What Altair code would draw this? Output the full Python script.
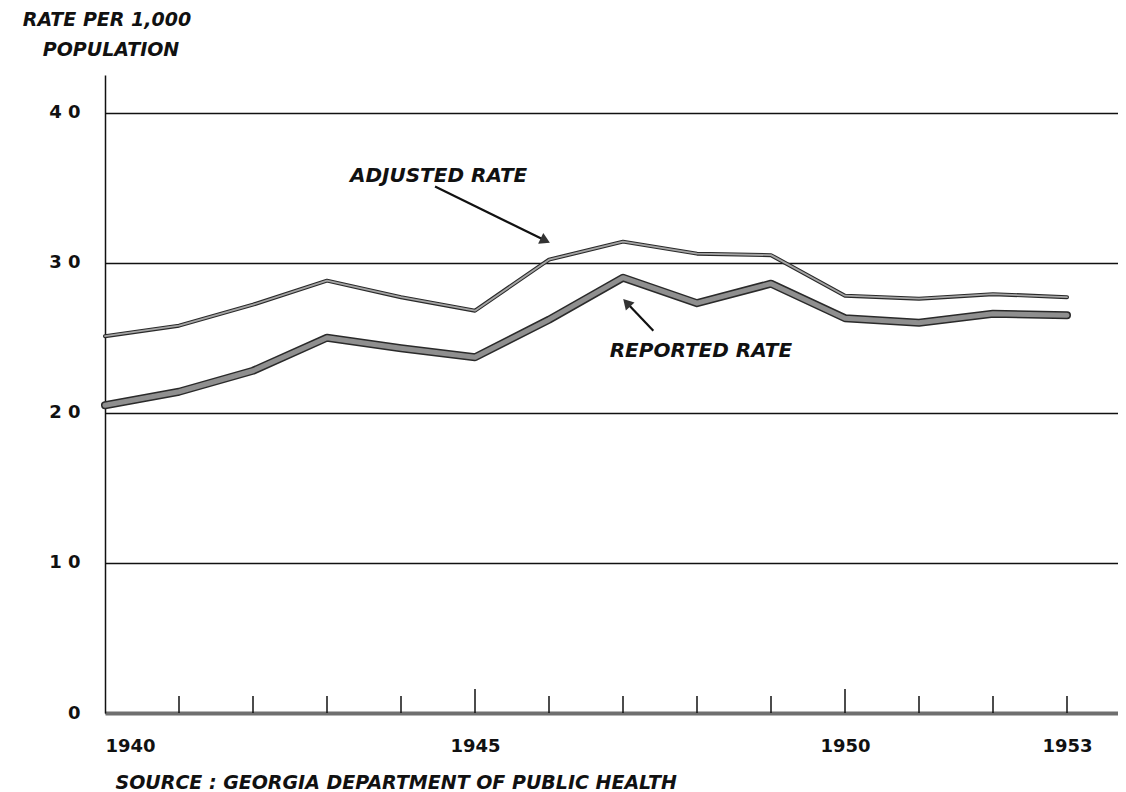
import altair as alt
import pandas as pd

# ---- data ----
years = [1940, 1941, 1942, 1943, 1944, 1945, 1946, 1947, 1948, 1949, 1950, 1951, 1952, 1953]
adjusted = [25.1, 25.8, 27.2, 28.8, 27.7, 26.8, 30.2, 31.4, 30.6, 30.5, 27.8, 27.6, 27.9, 27.7]
reported = [20.5, 21.4, 22.8, 25.0, 24.3, 23.7, 26.2, 29.0, 27.3, 28.6, 26.3, 26.0, 26.6, 26.5]

minor_ticks = [1941, 1942, 1943, 1944, 1946, 1947, 1948, 1949, 1951, 1952, 1953]
major_ticks = [1945, 1950]
x_label_values = [1940, 1945, 1950, 1953]
y_values = [0, 10, 20, 30, 40]

ann_text = ["ADJUSTED RATE", "REPORTED RATE"]
ann_text_x = [1943.31, 1946.82]
ann_text_y = [35.8, 24.1]
arrow_x0 = [1944.46, 1947.41]
arrow_y0 = [35.07, 25.47]
arrow_x1 = [1945.95, 1947.05]
arrow_y1 = [31.47, 27.33]
arrow_angle = [116, 317]

source_text = "SOURCE : GEORGIA DEPARTMENT OF PUBLIC HEALTH"
ytitle_line1 = "RATE PER 1,000"
ytitle_line2 = "POPULATION"

# ---- layout ----
W, H = 1013, 638
FONT = "DejaVu Sans"

df = pd.DataFrame({"year": years, "adjusted": adjusted, "reported": reported})
xs = alt.Scale(domain=[1940, 1940 + W / 74], nice=False, zero=False)
ys = alt.Scale(domain=[0, 42.5], nice=False)

xaxis = alt.Axis(values=x_label_values, format="d", ticks=False, grid=False,
                 labelFont=FONT, labelFontSize=18, labelFontWeight="bold",
                 labelColor="#111", labelPadding=24, labelFlush=True,
                 domainColor="#6f6f6f", domainWidth=4,
                 title=source_text, titleFont=FONT, titleFontSize=19,
                 titleFontStyle="italic", titleFontWeight="bold",
                 titleColor="#111", titleAnchor="start", titleAlign="left",
                 titleX=10, titleY=69, titleBaseline="middle")
yaxis = alt.Axis(values=y_values, ticks=False, grid=True, gridColor="#111",
                 gridWidth=1.5, gridOpacity=1,
                 labelExpr="datum.value == 0 ? '0' : (datum.value / 10) + ' 0'",
                 labelFont=FONT, labelFontSize=18, labelFontWeight="bold",
                 labelColor="#111", labelPadding=25,
                 domainColor="#111", domainWidth=1.5, title=None)

base = alt.Chart(df)

adj_outer = base.mark_line(color="#2a2a2a", strokeWidth=4, strokeJoin="round", strokeCap="round").encode(
    x=alt.X("year:Q", scale=xs, axis=xaxis), y=alt.Y("adjusted:Q", scale=ys, axis=yaxis))
adj_inner = base.mark_line(color="#a5a5a5", strokeWidth=1.8, strokeJoin="round", strokeCap="round").encode(
    x=alt.X("year:Q", scale=xs), y=alt.Y("adjusted:Q", scale=ys))
rep_outer = base.mark_line(color="#2a2a2a", strokeWidth=8, strokeJoin="round", strokeCap="round").encode(
    x=alt.X("year:Q", scale=xs), y=alt.Y("reported:Q", scale=ys))
rep_inner = base.mark_line(color="#8f8f8f", strokeWidth=5, strokeJoin="round", strokeCap="round").encode(
    x=alt.X("year:Q", scale=xs), y=alt.Y("reported:Q", scale=ys))

minor = alt.Chart(pd.DataFrame({"year": minor_ticks})).mark_rule(color="#111", strokeWidth=1.5).encode(
    x=alt.X("year:Q", scale=xs), y=alt.value(H), y2=alt.value(H - 17))
major = alt.Chart(pd.DataFrame({"year": major_ticks})).mark_rule(color="#111", strokeWidth=1.5).encode(
    x=alt.X("year:Q", scale=xs), y=alt.value(H), y2=alt.value(H - 24))

ann = pd.DataFrame({"text": ann_text, "tx": ann_text_x, "ty": ann_text_y,
                    "x0": arrow_x0, "y0": arrow_y0, "x1": arrow_x1, "y1": arrow_y1,
                    "ang": arrow_angle})
ann_labels = alt.Chart(ann).mark_text(align="left", baseline="middle", font=FONT, fontSize=20,
                                      fontStyle="italic", fontWeight="bold", color="#111").encode(
    x=alt.X("tx:Q", scale=xs), y=alt.Y("ty:Q", scale=ys), text="text:N")
arrows = alt.Chart(ann).mark_rule(color="#111", strokeWidth=2.2).encode(
    x=alt.X("x0:Q", scale=xs), y=alt.Y("y0:Q", scale=ys), x2="x1:Q", y2="y1:Q")
heads = alt.Chart(ann).mark_point(shape="triangle-up", filled=True, color="#333", size=140, opacity=1).encode(
    x=alt.X("x1:Q", scale=xs), y=alt.Y("y1:Q", scale=ys), angle=alt.Angle("ang:Q", scale=None))

title_df = pd.DataFrame({"t": [0]})
t1 = alt.Chart(title_df).mark_text(
    text=ytitle_line1, align="center", baseline="middle", font=FONT, fontSize=19,
    fontStyle="italic", fontWeight="bold", color="#111").encode(x=alt.value(2), y=alt.value(-55))
t2 = alt.Chart(title_df).mark_text(
    text=ytitle_line2, align="center", baseline="middle", font=FONT, fontSize=19,
    fontStyle="italic", fontWeight="bold", color="#111").encode(x=alt.value(6), y=alt.value(-25))

chart = alt.layer(adj_outer, adj_inner, rep_outer, rep_inner, minor, major,
                  arrows, heads, ann_labels, t1, t2).properties(
    width=W, height=H,
    background="white",
    autosize=alt.AutoSizeParams(type="none"),
    padding={"left": 97, "top": 67, "right": 0, "bottom": 78},
).configure_view(stroke=None)

chart.save("out.html", embed_options={"renderer": "svg", "actions": False})
